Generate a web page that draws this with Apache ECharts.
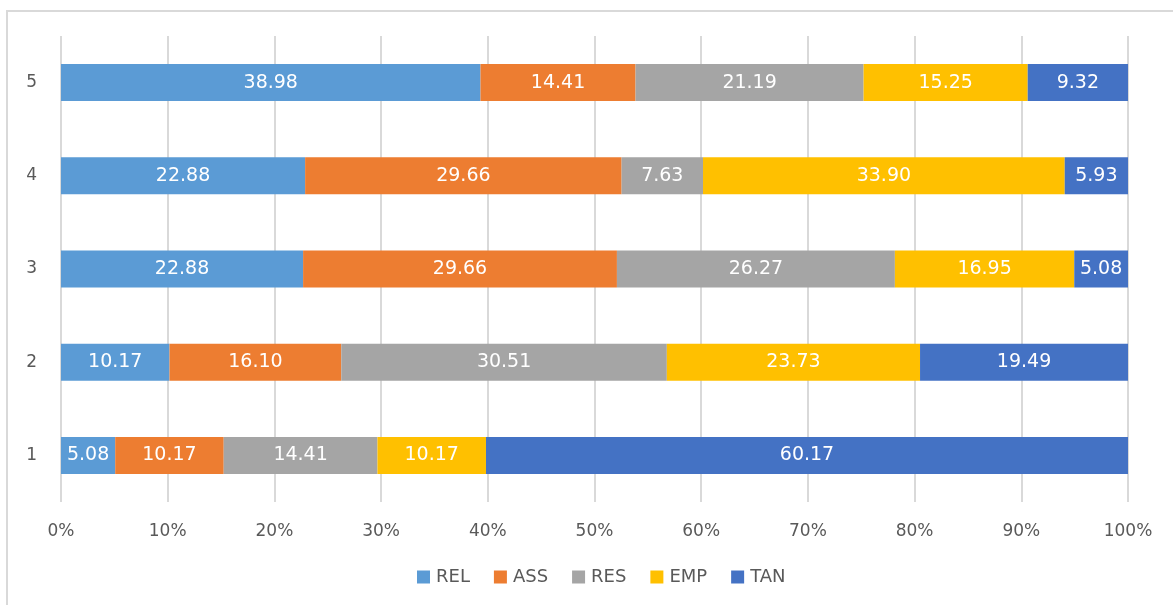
<!DOCTYPE html>
<html>
<head>
<meta charset="utf-8">
<script src="https://cdn.jsdelivr.net/npm/echarts@6/dist/echarts.min.js"></script>
<style>
  html, body { margin: 0; padding: 0; background: #fff; overflow: hidden; }
  #frame { position: absolute; left: 6px; top: 10px; width: 1200px; height: 640px;
           border: 2px solid #D9D9D9; box-sizing: border-box; }
  #chart { position: absolute; left: 0; top: 0; width: 1173px; height: 605px; }
</style>
</head>
<body>
<div id="frame"></div>
<div id="chart"></div>
<script>
// Row labels (bottom to top) and the score share of each dimension per row
const categories = ['1', '2', '3', '4', '5'];
const seriesNames = ['REL', 'ASS', 'RES', 'EMP', 'TAN'];
const REL = [5.08, 10.17, 22.88, 22.88, 38.98];
const ASS = [10.17, 16.10, 29.66, 29.66, 14.41];
const RES = [14.41, 30.51, 26.27, 7.63, 21.19];
const EMP = [10.17, 23.73, 16.95, 33.90, 15.25];
const TAN = [60.17, 19.49, 5.08, 5.93, 9.32];
const tickLabels = ['0%', '10%', '20%', '30%', '40%', '50%', '60%', '70%', '80%', '90%', '100%'];

const colors = ['#5B9BD5', '#ED7D31', '#A5A5A5', '#FFC000', '#4472C4'];
const values = [REL, ASS, RES, EMP, TAN];

// 100% stacking: each row is scaled by its own total
const totals = categories.map((_, i) => values.reduce((s, arr) => s + arr[i], 0));

const font = '"DejaVu Sans", "Noto Sans", sans-serif';

const chart = echarts.init(document.getElementById('chart'), null, { renderer: 'canvas' });
chart.setOption({
  animation: false,
  color: colors,
  grid: { left: 61, right: 45, top: 36, bottom: 103, containLabel: false },
  xAxis: {
    type: 'value', min: 0, max: 100, interval: 10,
    axisLine: { show: false }, axisTick: { show: false },
    splitLine: { show: true, lineStyle: { color: '#D9D9D9', width: 2 } },
    axisLabel: {
      color: '#595959', fontSize: 17, fontFamily: font, margin: 21,
      formatter: v => tickLabels[Math.round(v / 10)]
    }
  },
  yAxis: {
    type: 'category', data: categories,
    axisLine: { show: false }, axisTick: { show: false },
    axisLabel: { color: '#595959', fontSize: 17, fontFamily: font, margin: 24 }
  },
  legend: {
    bottom: 14, left: 412, itemWidth: 13, itemHeight: 13, itemGap: 24,
    icon: 'rect',
    textStyle: { color: '#595959', fontSize: 18, fontFamily: font, padding: [0, 0, 0, 1] },
    data: seriesNames
  },
  series: seriesNames.map((name, k) => ({
    name, type: 'bar', stack: 'total', barWidth: 37,
    data: values[k].map((v, i) => ({ value: v / totals[i] * 100, raw: v })),
    label: {
      show: true, position: 'inside', color: '#FFFFFF', fontSize: 19, fontFamily: font,
      formatter: p => p.data.raw.toFixed(2)
    }
  }))
});
</script>
</body>
</html>
